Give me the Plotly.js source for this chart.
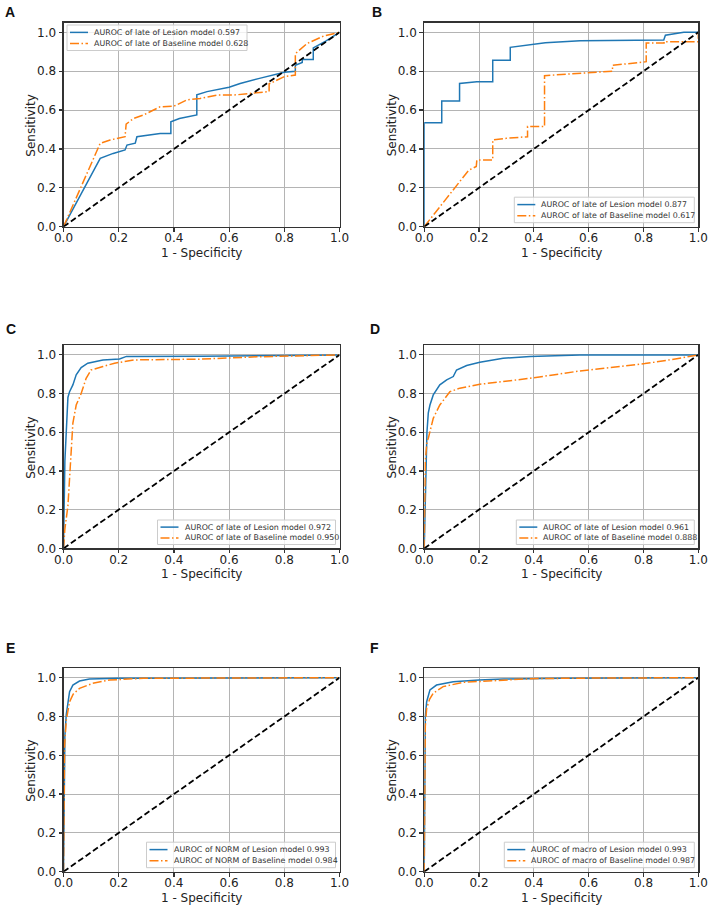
<!DOCTYPE html>
<html>
<head>
<meta charset="utf-8">
<script src="https://cdn.plot.ly/plotly-3.0.1.min.js"></script>
<style>
  html, body { margin: 0; padding: 0; background: #ffffff; }
  #chart { width: 714px; height: 912px; }
</style>
</head>
<body>
<div id="chart"></div>
<script>
// ROC curves of the Lesion model vs. the Baseline model, six panels (A–F).

const panelLetters = ['A', 'B', 'C', 'D', 'E', 'F'];
const classNames = ['late', 'late', 'late', 'late', 'NORM', 'macro'];
const aucLesion = [0.597, 0.877, 0.972, 0.961, 0.993, 0.993];
const aucBaseline = [0.628, 0.617, 0.950, 0.888, 0.984, 0.987];
const xTitle = '1 - Specificity';
const yTitle = 'Sensitivity';

// Chance line
const chanceFpr = [0, 1];
const chanceTpr = [0, 1];

// Panel A
const aLesionFpr = [0, 0.133, 0.18, 0.223, 0.23, 0.26, 0.266, 0.30, 0.35, 0.389, 0.389, 0.42, 0.483, 0.483, 0.52, 0.60, 0.64, 0.71, 0.80, 0.84, 0.84, 0.865, 0.865, 0.905, 0.905, 0.95, 1.0];
const aLesionTpr = [0, 0.352, 0.377, 0.395, 0.42, 0.43, 0.463, 0.47, 0.48, 0.48, 0.54, 0.557, 0.575, 0.678, 0.695, 0.717, 0.737, 0.763, 0.795, 0.80, 0.83, 0.845, 0.86, 0.86, 0.92, 0.955, 1.0];
const aBaseFpr = [0, 0.133, 0.169, 0.223, 0.227, 0.254, 0.29, 0.35, 0.40, 0.447, 0.495, 0.555, 0.616, 0.676, 0.745, 0.745, 0.80, 0.84, 0.84, 0.883, 0.943, 1.0];
const aBaseTpr = [0, 0.429, 0.446, 0.463, 0.528, 0.557, 0.575, 0.617, 0.62, 0.652, 0.66, 0.677, 0.677, 0.686, 0.695, 0.735, 0.772, 0.78, 0.89, 0.943, 0.981, 1.0];

// Panel B
const bLesionFpr = [0, 0, 0.064, 0.064, 0.129, 0.129, 0.192, 0.25, 0.25, 0.314, 0.314, 0.375, 0.442, 0.569, 0.874, 0.88, 0.947, 1.0];
const bLesionTpr = [0, 0.535, 0.535, 0.647, 0.647, 0.737, 0.746, 0.746, 0.856, 0.856, 0.923, 0.935, 0.946, 0.957, 0.96, 0.985, 1.0, 1.0];
const bBaseFpr = [0, 0.113, 0.162, 0.19, 0.192, 0.25, 0.25, 0.30, 0.377, 0.377, 0.439, 0.439, 0.545, 0.60, 0.687, 0.687, 0.81, 0.81, 0.875, 0.875, 1.0, 1.0];
const bBaseTpr = [0, 0.206, 0.29, 0.31, 0.343, 0.343, 0.446, 0.455, 0.463, 0.515, 0.515, 0.777, 0.786, 0.79, 0.80, 0.83, 0.849, 0.945, 0.945, 0.952, 0.952, 1.0];

// Panel C
const cLesionFpr = [0, 0.003, 0.005, 0.01, 0.016, 0.022, 0.034, 0.046, 0.064, 0.088, 0.143, 0.203, 0.228, 0.5, 0.7, 1.0];
const cLesionTpr = [0, 0.3, 0.45, 0.6, 0.78, 0.81, 0.845, 0.897, 0.934, 0.957, 0.974, 0.979, 0.992, 0.993, 0.996, 1.0];
const cBaseFpr = [0, 0.005, 0.016, 0.028, 0.034, 0.046, 0.064, 0.082, 0.1, 0.143, 0.185, 0.258, 0.5, 0.7, 0.9, 1.0];
const cBaseTpr = [0, 0.1, 0.22, 0.54, 0.647, 0.741, 0.80, 0.879, 0.922, 0.94, 0.957, 0.974, 0.978, 0.99, 0.995, 1.0];

// Panel D
const dLesionFpr = [0, 0.003, 0.006, 0.01, 0.015, 0.021, 0.033, 0.057, 0.082, 0.106, 0.118, 0.155, 0.203, 0.288, 0.386, 0.568, 1.0];
const dLesionTpr = [0, 0.2, 0.45, 0.6, 0.7, 0.741, 0.793, 0.845, 0.871, 0.888, 0.922, 0.945, 0.962, 0.983, 0.991, 0.999, 1.0];
const dBaseFpr = [0, 0.004, 0.01, 0.015, 0.033, 0.057, 0.094, 0.13, 0.203, 0.386, 0.568, 0.60, 0.805, 0.9, 1.0];
const dBaseTpr = [0, 0.45, 0.55, 0.569, 0.672, 0.741, 0.81, 0.828, 0.848, 0.879, 0.917, 0.922, 0.955, 0.975, 1.0];

// Panel E
const eLesionFpr = [0, 0.002, 0.005, 0.01, 0.022, 0.034, 0.058, 0.094, 0.2, 1.0];
const eLesionTpr = [0, 0.5, 0.7, 0.81, 0.928, 0.962, 0.983, 0.993, 0.997, 1.0];
const eBaseFpr = [0, 0.002, 0.004, 0.01, 0.022, 0.035, 0.058, 0.106, 0.167, 0.29, 1.0];
const eBaseTpr = [0, 0.45, 0.65, 0.78, 0.876, 0.915, 0.945, 0.971, 0.988, 0.997, 1.0];

// Panel F
const fLesionFpr = [0, 0.002, 0.004, 0.009, 0.021, 0.045, 0.106, 0.2, 0.29, 0.5, 1.0];
const fLesionTpr = [0, 0.6, 0.8, 0.876, 0.937, 0.962, 0.979, 0.988, 0.993, 0.997, 1.0];
const fBaseFpr = [0, 0.002, 0.004, 0.009, 0.02, 0.033, 0.069, 0.142, 0.29, 0.39, 0.6, 1.0];
const fBaseTpr = [0, 0.55, 0.75, 0.842, 0.89, 0.92, 0.954, 0.976, 0.988, 0.995, 0.998, 1.0];

const lesionFpr = [aLesionFpr, bLesionFpr, cLesionFpr, dLesionFpr, eLesionFpr, fLesionFpr];
const lesionTpr = [aLesionTpr, bLesionTpr, cLesionTpr, dLesionTpr, eLesionTpr, fLesionTpr];
const baseFpr = [aBaseFpr, bBaseFpr, cBaseFpr, dBaseFpr, eBaseFpr, fBaseFpr];
const baseTpr = [aBaseTpr, bBaseTpr, cBaseTpr, dBaseTpr, eBaseTpr, fBaseTpr];

// ---- page geometry (pixels) ----
const W = 714, H = 912;
const colPx = [[63.5, 339.5], [424.2, 698.3]];
const rowPx = [[22.6, 226.7], [345.2, 548.4], [668, 871.7]];
// legend boxes: [left, top, width, height]
const legendBox = [
  [67, 25, 180, 25.5],
  [514.3, 197.2, 180, 25.5],
  [157.5, 520, 178, 24.5],
  [516.3, 520, 178, 24.5],
  [146.5, 842.2, 189, 25.5],
  [504.3, 842.2, 190, 25.5]
];
const letterPos = [[10, 12.5], [376.5, 12.5], [11, 329], [375, 329], [10, 648], [374.5, 648]];

const px = x => x / W;
const py = y => 1 - y / H;

const BLUE = '#1f77b4';
const ORANGE = '#ff7f0e';
const DASHDOT = '9px,2.5px,1.5px,2.5px';
const FONT = 'DejaVu Sans, Verdana, sans-serif';

const data = [];
const layout = {
  width: W,
  height: H,
  margin: { l: 0, r: 0, t: 0, b: 0 },
  paper_bgcolor: '#ffffff',
  plot_bgcolor: '#ffffff',
  showlegend: false,
  font: { family: FONT, color: '#222222' },
  shapes: [],
  annotations: []
};

const axisCommon = {
  showgrid: true,
  gridcolor: '#b4b4b4',
  gridwidth: 1,
  zeroline: false,
  showline: true,
  linecolor: '#333333',
  linewidth: 1.5,
  mirror: true,
  ticks: 'outside',
  ticklen: 3.5,
  tickwidth: 1.2,
  tickcolor: '#333333',
  tick0: 0,
  dtick: 0.2,
  tickformat: '.1f',
  tickfont: { family: FONT, size: 12, color: '#222222' },
  fixedrange: true
};

panelLetters.forEach((letter, i) => {
  const c = colPx[i % 2];
  const r = rowPx[Math.floor(i / 2)];
  const n = i + 1;
  const suf = n === 1 ? '' : String(n);
  const xr = 'x' + suf, yr = 'y' + suf;

  layout['xaxis' + suf] = Object.assign({}, axisCommon, {
    domain: [px(c[0]), px(c[1])],
    anchor: yr,
    range: [0, 1],
    ticklabelstandoff: -4
  });
  layout['yaxis' + suf] = Object.assign({}, axisCommon, {
    domain: [py(r[1]), py(r[0])],
    anchor: xr,
    range: [0, 1.05]
  });

  // axis titles
  layout.annotations.push({
    xref: 'paper', yref: 'paper', x: px((c[0] + c[1]) / 2), y: py(r[1] + 26),
    xanchor: 'center', yanchor: 'middle', showarrow: false,
    text: xTitle, font: { family: FONT, size: 12, color: '#222222' }
  });
  layout.annotations.push({
    xref: 'paper', yref: 'paper', x: px(c[0] - 32.5), y: py((r[0] + r[1]) / 2 + 1),
    xanchor: 'center', yanchor: 'middle', showarrow: false, textangle: -90,
    text: yTitle, font: { family: FONT, size: 12, color: '#222222' }
  });

  const lesionName = `AUROC of ${classNames[i]} of Lesion model ${aucLesion[i].toFixed(3)}`;
  const baseName = `AUROC of ${classNames[i]} of Baseline model ${aucBaseline[i].toFixed(3)}`;

  data.push({
    type: 'scatter', mode: 'lines', xaxis: xr, yaxis: yr,
    x: lesionFpr[i], y: lesionTpr[i], name: lesionName,
    line: { color: BLUE, width: 1.5 }
  });
  data.push({
    type: 'scatter', mode: 'lines', xaxis: xr, yaxis: yr,
    x: baseFpr[i], y: baseTpr[i], name: baseName,
    line: { color: ORANGE, width: 1.5, dash: DASHDOT }
  });
  data.push({
    type: 'scatter', mode: 'lines', xaxis: xr, yaxis: yr,
    x: chanceFpr, y: chanceTpr, name: 'Chance', hoverinfo: 'skip',
    line: { color: '#000000', width: 1.8, dash: '6px,3px' }
  });

  // legend box
  const [L, T, BW, BH] = legendBox[i];
  layout.shapes.push({
    type: 'rect', xref: 'paper', yref: 'paper', layer: 'above',
    x0: px(L), x1: px(L + BW), y0: py(T + BH), y1: py(T),
    line: { color: '#cccccc', width: 1 },
    fillcolor: 'rgba(255,255,255,0.8)'
  });
  const rows = [
    { name: lesionName, color: BLUE, dash: 'solid', dy: BH * 0.29 },
    { name: baseName, color: ORANGE, dash: DASHDOT, dy: BH * 0.73 }
  ];
  rows.forEach(row => {
    layout.shapes.push({
      type: 'line', xref: 'paper', yref: 'paper', layer: 'above',
      x0: px(L + 3), x1: px(L + 21), y0: py(T + row.dy), y1: py(T + row.dy),
      line: { color: row.color, width: 1.5, dash: row.dash }
    });
    layout.annotations.push({
      xref: 'paper', yref: 'paper', x: px(L + 25), y: py(T + row.dy),
      xanchor: 'left', yanchor: 'middle', showarrow: false,
      text: row.name,
      font: { family: FONT, size: 7.9, color: '#333333' }
    });
  });

  // panel letter
  layout.annotations.push({
    xref: 'paper', yref: 'paper', x: px(letterPos[i][0]), y: py(letterPos[i][1]),
    xanchor: 'center', yanchor: 'middle', showarrow: false,
    text: '<b>' + letter + '</b>',
    font: { family: 'Liberation Sans, Arial, sans-serif', size: 14, color: '#111111' }
  });
});

Plotly.newPlot('chart', data, layout, { displayModeBar: false, staticPlot: true });
</script>
</body>
</html>
